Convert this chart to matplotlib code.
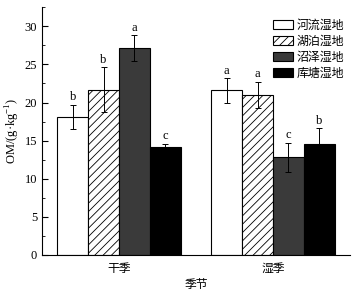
import numpy as np
import matplotlib.pyplot as plt
from matplotlib.ticker import MultipleLocator

plt.rcParams['font.family'] = ['Liberation Serif', 'Noto Sans CJK SC']
plt.rcParams['mathtext.fontset'] = 'custom'
plt.rcParams['mathtext.rm'] = 'Liberation Serif'
plt.rcParams['hatch.linewidth'] = 0.6

seasons = ['干季', '湿季']
wetlands = ['河流湿地', '湖泊湿地', '沼泽湿地', '库塘湿地']
om_mean = {
    '河流湿地': [18.1, 21.6],
    '湖泊湿地': [21.7, 21.0],
    '沼泽湿地': [27.1, 12.8],
    '库塘湿地': [14.2, 14.5],
}
om_err = {
    '河流湿地': [1.6, 1.6],
    '湖泊湿地': [2.9, 1.7],
    '沼泽湿地': [1.7, 1.9],
    '库塘湿地': [0.4, 2.1],
}
letters = {
    '河流湿地': ['b', 'a'],
    '湖泊湿地': ['b', 'a'],
    '沼泽湿地': ['a', 'c'],
    '库塘湿地': ['c', 'b'],
}

styles = {
    '河流湿地': dict(color='white', hatch=None),
    '湖泊湿地': dict(color='white', hatch='////'),
    '沼泽湿地': dict(color='#3a3a3a', hatch=None),
    '库塘湿地': dict(color='black', hatch=None),
}

fig = plt.figure(figsize=(3.54, 2.95), dpi=100)
ax = fig.add_axes([0.1186, 0.1356, 0.87, 0.84])

x = np.arange(len(seasons))
w = 0.2
for i, name in enumerate(wetlands):
    pos = x + (i - 1.5) * w
    st = styles[name]
    ax.bar(pos, om_mean[name], width=w, color=st['color'], hatch=st['hatch'],
           edgecolor='black', linewidth=0.8, label=name, zorder=2)
    ax.errorbar(pos, om_mean[name], yerr=om_err[name], fmt='none',
                ecolor='black', elinewidth=0.7, capsize=2.5, capthick=0.7, zorder=3)
    for p, m, e, t in zip(pos, om_mean[name], om_err[name], letters[name]):
        ax.text(p, m + e + 0.2, t, ha='center', va='bottom', fontsize=9)

ax.set_xlim(-0.5, 1.5)
ax.set_ylim(0, 32.5)
ax.set_xticks(x)
ax.set_xticklabels(seasons, fontsize=8.5)
ax.tick_params(axis='x', length=0, pad=6)
ax.yaxis.set_major_locator(MultipleLocator(5))
ax.yaxis.set_minor_locator(MultipleLocator(2.5))
ax.tick_params(axis='y', which='both', direction='in', labelsize=9)
ax.tick_params(axis='y', which='major', length=4)
ax.tick_params(axis='y', which='minor', length=2.5)
for s in ['top', 'right']:
    ax.spines[s].set_visible(False)
ax.set_ylabel('OM/(g·kg$^{\\mathregular{-1}}$)', fontsize=9, labelpad=2)
ax.set_xlabel('季节', fontsize=8.5, labelpad=3)

ax.legend(loc='upper right', bbox_to_anchor=(1.0, 0.975), frameon=False, fontsize=8.6,
          handlelength=1.7, handleheight=0.75, handletextpad=0.3, labelspacing=0.35,
          borderaxespad=0.1)

fig.savefig('out.png', dpi=100)
